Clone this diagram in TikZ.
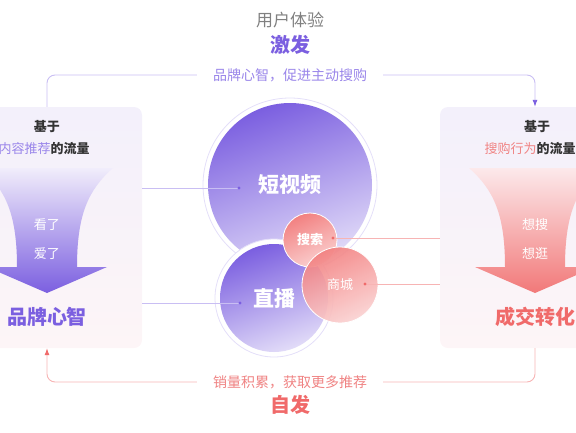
\documentclass[tikz,border=0pt]{standalone}
\usepackage{fontspec}
\setmainfont{Noto Sans CJK SC}
\usetikzlibrary{arrows.meta,positioning}
\definecolor{vio}{HTML}{7B5FE0}
\definecolor{viomid}{HTML}{B5A6F0}
\definecolor{viofade}{HTML}{F1EDFB}
\definecolor{violine}{HTML}{C9BEF3}
\definecolor{viotext}{HTML}{9A86EA}
\definecolor{rd}{HTML}{F06A6A}
\definecolor{rdmid}{HTML}{F8ABAE}
\definecolor{rdfade}{HTML}{FCE9EB}
\definecolor{rdline}{HTML}{F7B4B4}
\definecolor{rdtext}{HTML}{F08383}
\definecolor{ink}{HTML}{333333}
\definecolor{panetop}{HTML}{F3F0FB}
\definecolor{panebot}{HTML}{FDF5F7}
\newcommand\fsz[1]{\fontsize{#1}{#1}\selectfont}
\tikzset{
  panel/.style={rounded corners=8pt, minimum width=190pt, minimum height=241pt,
    top color=panetop, bottom color=panebot},
  ring/.style={circle, fill=white, draw=violine!50, line width=0.8pt},
  viobub/.style={circle, top color=vio, bottom color=vio!22, shading angle=20,
    text=white, font=\fsz{21}\bfseries},
  rdbub/.style={circle, top color=rd!85, bottom color=rd!30, shading angle=25,
    draw=white, line width=0.8pt, text=white, font=\fsz{13}},
  vioedge/.style={draw=violine, line width=0.9pt},
  rdedge/.style={draw=rdline, line width=0.9pt}
}
\begin{document}
\begin{tikzpicture}[x=1pt,y=-1pt, every node/.style={inner sep=0pt}]
\useasboundingbox (0,0) rectangle (576,432);
\clip (0,0) rectangle (576,432);

% titles
\node[text=gray, font=\fsz{17}] (ux) at (290,20) {用户体验};
\node[text=vio, font=\fsz{20}\bfseries] (jifa) at (290,45) {激发};
\node[text=rd, font=\fsz{20}\bfseries] (zifa) at (290,405) {自发};

% side panels
\node[panel] (lpanel) at (47,227.5) {};
\node[panel] (rpanel) at (535,227.5) {};

% funnels
\begin{scope}[xshift=47pt]
\shade[top color=viofade, middle color=viomid, bottom color=vio]
  (-66,168) -- (66,168) .. controls (41,190) and (30,215) .. (30,267)
  -- (60,267) -- (0,293) -- (-60,267) -- (-30,267)
  .. controls (-30,215) and (-41,190) .. (-66,168) -- cycle;
\end{scope}
\begin{scope}[xshift=535pt]
\shade[top color=rdfade, middle color=rdmid, bottom color=rd!90]
  (-66,168) -- (66,168) .. controls (41,190) and (30,215) .. (30,267)
  -- (60,267) -- (0,293) -- (-60,267) -- (-30,267)
  .. controls (-30,215) and (-41,190) .. (-66,168) -- cycle;
\end{scope}

% left panel texts
\node[text=ink, font=\fsz{13}\bfseries] (lbase) at (47,127) {基于};
\node[text=ink, font=\fsz{13}\bfseries] (lflow) at (44,149) {\textcolor{viotext}{\mdseries 内容推荐}的流量};
\node[text=white, font=\fsz{13}] (lsee) at (47,225) {看了};
\node[text=white, font=\fsz{13}] (llove) at (47,254) {爱了};
\node[text=vio, font=\fsz{20}\bfseries] (lmind) at (47,317) {品牌心智};

% right panel texts
\node[text=ink, font=\fsz{13}\bfseries] (rbase) at (537,127) {基于};
\node[text=ink, font=\fsz{13}\bfseries] (rflow) at (530,149) {\textcolor{rdtext}{\mdseries 搜购行为}的流量};
\node[text=white, font=\fsz{13}] (rsearch) at (535,225) {想搜};
\node[text=white, font=\fsz{13}] (rbrowse) at (535,254) {想逛};
\node[text=rd, font=\fsz{20}\bfseries] (rdeal) at (535,317) {成交转化};

% bubbles
\node[ring, minimum size=174pt] (vidring) at (290,185) {};
\node[viobub, minimum size=164pt] (vid) at (290,185) {短视频};
\node[ring, minimum size=118pt] (livering) at (274,298) {};
\node[viobub, minimum size=108pt] (live) at (274,298) {\raisebox{-3pt}{直播}};
\node[rdbub, minimum size=54pt, font=\fsz{13}\bfseries] (search) at (310,240) {搜索};
\node[rdbub, minimum size=76pt, fill opacity=0.92, text opacity=1] (mall) at (340,285) {商城};

% dots
\coordinate (viddot) at (239,188);
\coordinate (livedot) at (240,303);
\coordinate (searchdot) at (333,238);
\coordinate (malldot) at (365,284);

% connectors
\draw[vioedge] (lpanel.east |- viddot) -- (viddot);
\draw[vioedge] (lpanel.east |- livedot) -- (livedot);
\draw[rdedge] (searchdot) -- (searchdot -| rpanel.west);
\draw[rdedge] (malldot) -- (malldot -| rpanel.west);
\fill[vio] (viddot) circle (1.6);
\fill[vio] (livedot) circle (1.6);
\fill[rd] (searchdot) circle (1.6);
\fill[rd] (malldot) circle (1.6);

% loops
\coordinate (topmid) at (290,75);
\coordinate (botmid) at (290,382);
\draw[vioedge, rounded corners=8pt, -{Latex[length=7pt,width=5pt,color=vio]}]
  (lpanel.north) |- (topmid) -| (rpanel.north);
\draw[rdedge, rounded corners=8pt, -{Latex[length=7pt,width=5pt,color=rd]}]
  (rpanel.south) |- (botmid) -| (lpanel.south);
\node[fill=white, inner xsep=16pt, text=viotext, font=\fsz{14}] (toptext) at (topmid) {品牌心智，促进主动搜购};
\node[fill=white, inner xsep=16pt, text=rdtext, font=\fsz{14}] (bottext) at (botmid) {销量积累，获取更多推荐};
\end{tikzpicture}
\end{document}
